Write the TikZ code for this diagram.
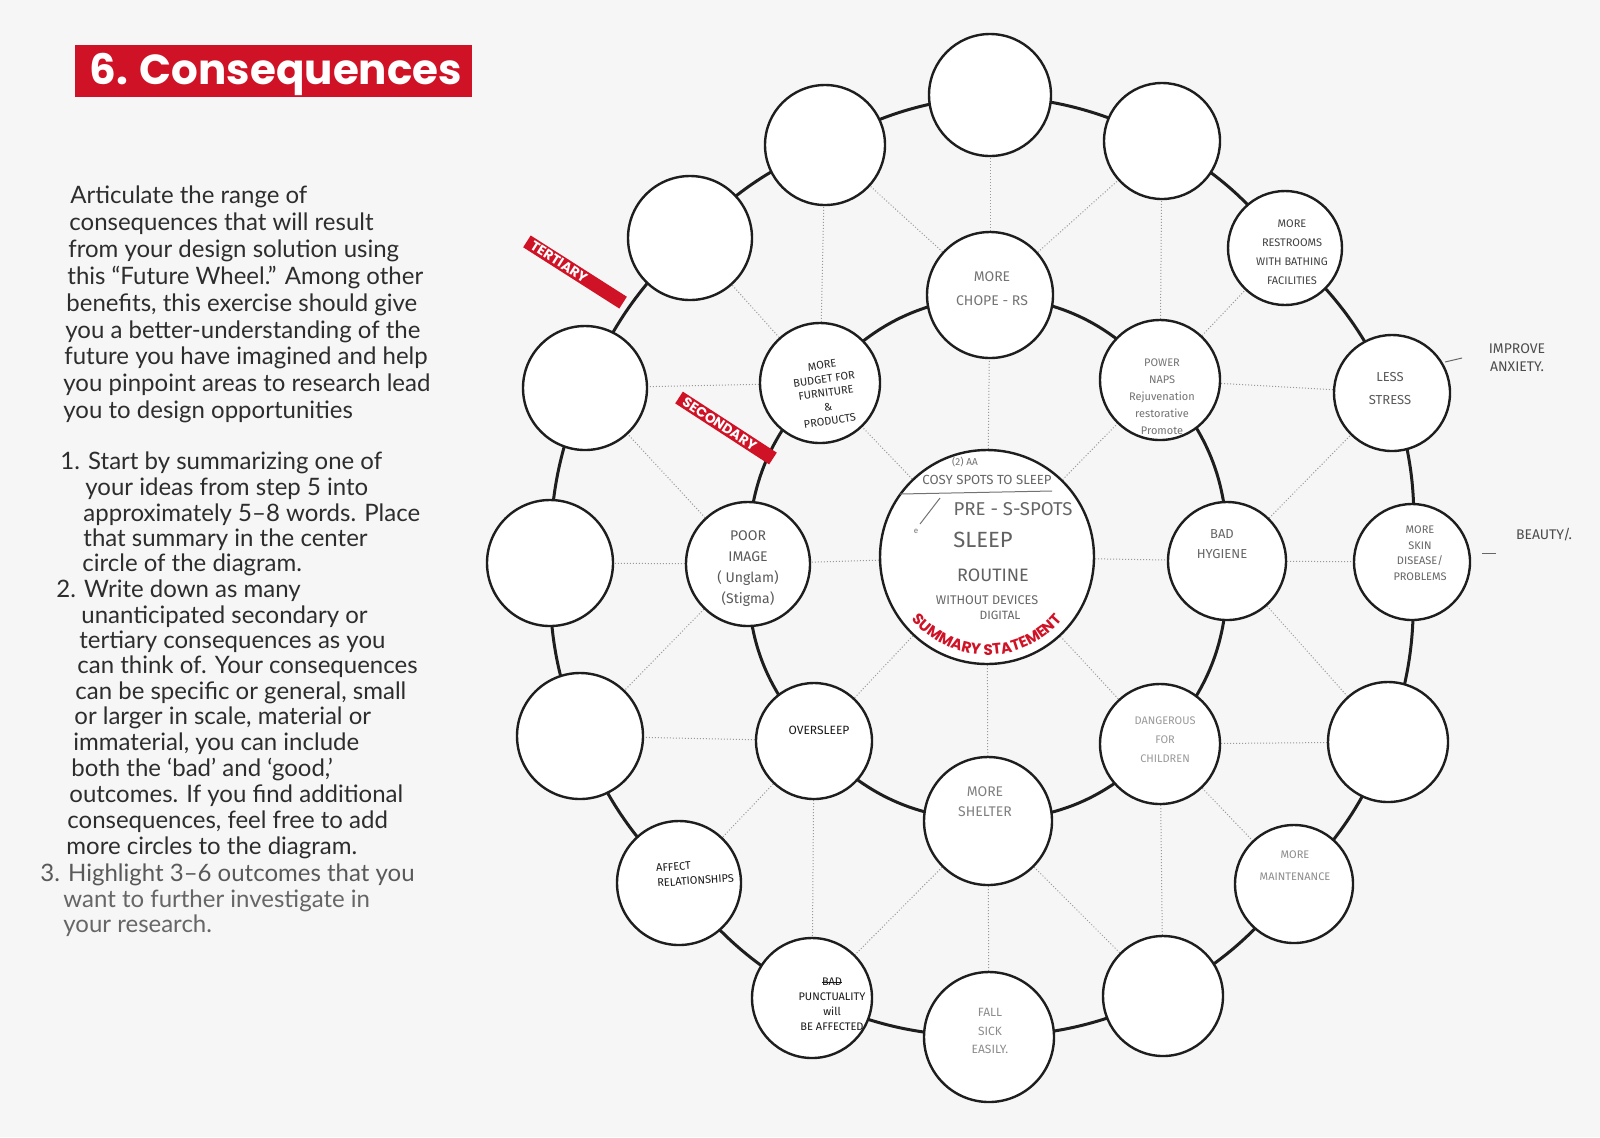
\documentclass[tikz,border=0pt]{standalone}
\usepackage{fontspec}
\setmainfont{Lato}
\newfontfamily\titlefont{Poppins}
\newfontfamily\hand{Fira Sans}
\usetikzlibrary{decorations.text}
\pgfdeclarelayer{back}
\pgfdeclarelayer{bg}
\pgfsetlayers{back,bg,main}
\definecolor{tred}{RGB}{208,18,38}
\definecolor{page}{RGB}{246,246,246}
\definecolor{ink}{RGB}{30,30,30}
\definecolor{txt}{RGB}{45,45,45}
\newcommand\strk[1]{{\setbox0\hbox{#1}\rlap{\rule[0.35ex]{\wd0}{0.4pt}}#1}}
\begin{document}
\begin{tikzpicture}[x=0.5pt,y=0.5pt,
  wc/.style={circle,draw=ink,line width=1.2pt,fill=white,minimum size=#1pt,inner sep=0pt},
  ring/.style={draw=ink,line width=1.5pt},
  dotl/.style={draw=black!40,line width=0.5pt,dash pattern=on 0.5pt off 1pt},
  body/.style={anchor=base west,inner sep=0pt,text=txt,font=\fontsize{12}{15}\selectfont},
  hw/.style={inner sep=0pt,align=center,text=black!60},
  tag/.style={fill=tred,text=white,inner xsep=3pt,inner ysep=0pt,minimum height=7pt,align=left,
     font=\titlefont\bfseries\fontsize{6.8}{7}\selectfont}]
\useasboundingbox (0,0) rectangle (1600,-1137);
\begin{pgfonlayer}{back}
\fill[page] (0,0) rectangle (1600,-1137);
\end{pgfonlayer}

% ---------- title ----------
\node[fill=tred,anchor=north west,minimum width=198.5pt,minimum height=26pt,inner sep=0pt] (titlebox) at (75,-45) {};
\node[anchor=base west,inner sep=0pt,text=white,font=\titlefont\bfseries\fontsize{21}{24}\selectfont] (title) at (89,-84) {6. Consequences};

% ---------- body text ----------
\node[body] (p1) at (70,-203) {Articulate the range of};
\node[body] (p2) at (69,-230) {consequences that will result};
\node[body] (p3) at (68,-257) {from your design solution using};
\node[body] (p4) at (67,-284) {this “Future Wheel.” Among other};
\node[body] (p5) at (66,-311) {benefits, this exercise should give};
\node[body] (p6) at (65,-338) {you a better-understanding of the};
\node[body] (p7) at (64,-364) {future you have imagined and help};
\node[body] (p8) at (63,-391) {you pinpoint areas to research lead};
\node[body] (p9) at (63,-418) {you to design opportunities};

\node[body] (l1) at (60,-469) {1. Start by summarizing one of};
\node[body] (l2) at (85,-495) {your ideas from step 5 into};
\node[body] (l3) at (83,-521) {approximately 5–8 words. Place};
\node[body] (l4) at (83,-546) {that summary in the center};
\node[body] (l5) at (82,-571) {circle of the diagram.};
\node[body] (l6) at (56,-597) {2. Write down as many};
\node[body] (l7) at (81,-623) {unanticipated secondary or};
\node[body] (l8) at (79,-648) {tertiary consequences as you};
\node[body] (l9) at (77,-673) {can think of. Your consequences};
\node[body] (l10) at (75,-699) {can be specific or general, small};
\node[body] (l11) at (74,-724) {or larger in scale, material or};
\node[body] (l12) at (73,-750) {immaterial, you can include};
\node[body] (l13) at (71,-776) {both the ‘bad’ and ‘good,’};
\node[body] (l14) at (69,-802) {outcomes. If you find additional};
\node[body] (l15) at (67,-828) {consequences, feel free to add};
\node[body] (l16) at (66,-854) {more circles to the diagram.};
\node[body,text=black!65] (l17) at (40,-881) {3. Highlight 3–6 outcomes that you};
\node[body,text=black!60] (l18) at (63,-907) {want to further investigate in};
\node[body,text=black!60] (l19) at (63,-932) {your research.};

% ---------- circles ----------
\node[wc=107] (c) at (987,-557) {};
\node[wc=63] (s1) at (990,-295) {};
\node[wc=60] (s2) at (1160,-380) {};
\node[wc=59] (s3) at (1227,-561) {};
\node[wc=60] (s4) at (1160,-744) {};
\node[wc=64] (s5) at (988,-821) {};
\node[wc=58] (s6) at (814,-741) {};
\node[wc=62] (s7) at (748,-564) {};
\node[wc=60] (s8) at (820,-383) {};

\node[wc=61] (t1) at (990,-95) {};
\node[wc=58] (t2) at (1162,-141) {};
\node[wc=57] (t3) at (1285,-248) {};
\node[wc=58] (t4) at (1392,-393) {};
\node[wc=58] (t5) at (1412,-562) {};
\node[wc=60] (t6) at (1388,-742) {};
\node[wc=59] (t7) at (1294,-884) {};
\node[wc=60] (t8) at (1163,-996) {};
\node[wc=65] (t9) at (989,-1037) {};
\node[wc=60] (t10) at (812,-998) {};
\node[wc=62] (t11) at (679,-883) {};
\node[wc=63] (t12) at (580,-736) {};
\node[wc=63] (t13) at (550,-563) {};
\node[wc=62] (t14) at (585,-388) {};
\node[wc=62] (t15) at (690,-238) {};
\node[wc=60] (t16) at (825,-145) {};

% ---------- rings and dotted links ----------
\begin{pgfonlayer}{bg}
\foreach \a/\b in {s1/s2,s2/s3,s3/s4,s4/s5,s5/s6,s6/s7,s7/s8,s8/s1}
  \draw[ring] (\a.center) to[bend left=22] (\b.center);
\foreach \a/\b in {t1/t2,t2/t3,t3/t4,t4/t5,t5/t6,t6/t7,t7/t8,t8/t9,t9/t10,t10/t11,t11/t12,t12/t13,t13/t14,t14/t15,t15/t16,t16/t1}
  \draw[ring] (\a.center) to[bend left=11] (\b.center);
\foreach \s in {s1,s2,s3,s4,s5,s6,s7,s8}
  \draw[dotl] (c) -- (\s);
\foreach \s/\x/\y/\z in {s1/t16/t1/t2,s2/t2/t3/t4,s3/t4/t5/t6,s4/t6/t7/t8,s5/t8/t9/t10,s6/t10/t11/t12,s7/t12/t13/t14,s8/t14/t15/t16}{
  \draw[dotl] (\s) -- (\x);
  \draw[dotl] (\s) -- (\y);
  \draw[dotl] (\s) -- (\z);
}
\end{pgfonlayer}

% ---------- tags ----------
\node[tag,rotate=-32.5,text width=51pt] (tert) at (575,-272) {TERTIARY};
\node[tag,rotate=-33,text width=50pt] (seco) at (726,-428) {SECONDARY};

% ---------- summary statement ----------
\path[decorate,decoration={text along path,text align=center,
  text={|\color{tred}\titlefont\bfseries\fontsize{7.6}{8}\selectfont|SUMMARY STATEMENT}}]
  (c.center) ++(200:98) arc[start angle=200,end angle=340,radius=98];

% ---------- handwriting in the centre ----------
\node[hw,text=black!55,font=\hand\fontsize{5}{6}\selectfont] (h0) at (965,-462) {(2) AA};
\node[hw,text=black!60,font=\hand\fontsize{6.6}{8}\selectfont] (h1) at (987,-480) {COSY SPOTS TO SLEEP};
\coordinate (u1) at (900,-494);
\coordinate (u2) at (1052,-491);
\draw[black!55,line width=0.5pt] (u1) -- (u2);
\coordinate (sl1) at (920,-524);
\coordinate (sl2) at (940,-498);
\draw[black!55,line width=0.5pt] (sl1) -- (sl2);
\node[hw,text=black!60,font=\hand\fontsize{9.3}{10}\selectfont] (h2) at (1013,-509) {PRE - S-SPOTS};
\node[hw,text=black!55,font=\hand\fontsize{4}{5}\selectfont] (h3) at (916,-531) {e};
\node[hw,text=black!62,font=\hand\fontsize{11}{12}\selectfont] (h4) at (983,-540) {SLEEP};
\node[hw,text=black!62,font=\hand\fontsize{9}{10}\selectfont] (h5) at (993,-575) {ROUTINE};
\node[hw,text=black!60,font=\hand\fontsize{6.3}{7}\selectfont] (h6) at (987,-600) {WITHOUT DEVICES};
\node[hw,text=black!60,font=\hand\fontsize{6}{7}\selectfont] (h7) at (1000,-615) {DIGITAL};

% ---------- handwriting in secondary circles ----------
\node[hw,text=black!55,font=\hand\fontsize{7}{12}\selectfont] (hs1) at (992,-289) {MORE\\CHOPE - RS};
\node[hw,text=black!55,font=\hand\fontsize{5.5}{8.5}\selectfont] (hs2) at (1162,-397) {POWER\\NAPS\\Rejuvenation\\restorative\\Promote};
\node[hw,text=black!85,rotate=8,font=\hand\fontsize{5.5}{7}\selectfont] (hs8) at (826,-393) {MORE\\BUDGET FOR\\FURNITURE\\\&\\PRODUCTS};
\node[hw,text=black!65,font=\hand\fontsize{7}{10.5}\selectfont] (hs7) at (748,-569) {POOR\\IMAGE\\( Unglam)\\(Stigma)};
\node[hw,text=black!60,font=\hand\fontsize{6.5}{10}\selectfont] (hs3) at (1222,-544) {BAD\\HYGIENE};
\node[hw,text=black!90,font=\hand\fontsize{6}{7}\selectfont] (hs6) at (819,-730) {OVERSLEEP};
\node[hw,text=black!50,font=\hand\fontsize{7}{10}\selectfont] (hs5) at (985,-802) {MORE\\SHELTER};
\node[hw,text=black!40,font=\hand\fontsize{5.5}{9.5}\selectfont] (hs4) at (1165,-740) {DANGEROUS\\FOR\\CHILDREN};

% ---------- handwriting in tertiary circles ----------
\node[hw,text=black!75,font=\hand\fontsize{5.5}{9.5}\selectfont] (ht3) at (1292,-252) {MORE\\RESTROOMS\\WITH BATHING\\FACILITIES};
\node[hw,text=black!65,font=\hand\fontsize{6.5}{11.5}\selectfont] (ht4) at (1390,-389) {LESS\\STRESS};
\node[hw,text=black!60,font=\hand\fontsize{5.5}{7.8}\selectfont] (ht5) at (1420,-553) {MORE\\SKIN\\DISEASE/\\PROBLEMS};
\node[hw,text=black!45,font=\hand\fontsize{5.5}{11}\selectfont] (ht7) at (1295,-866) {MORE\\MAINTENANCE};
\node[hw,text=black!45,font=\hand\fontsize{6}{9.3}\selectfont] (ht9) at (990,-1031) {FALL\\SICK\\EASILY.};
\node[hw,text=black!90,font=\hand\fontsize{5.5}{7.5}\selectfont] (ht10) at (832,-1004) {\strk{BAD}\\PUNCTUALITY\\will\\BE AFFECTED};
\node[hw,text=black!90,align=left,rotate=4,font=\hand\fontsize{5.5}{7.5}\selectfont] (ht11) at (695,-873) {AFFECT\\RELATIONSHIPS};

% ---------- side notes ----------
\coordinate (d1a) at (1445,-362);
\coordinate (d1b) at (1462,-358);
\draw[black!60,line width=0.5pt] (d1a) -- (d1b);
\node[hw,text=black!70,font=\hand\fontsize{7}{9}\selectfont] (n1) at (1517,-358) {IMPROVE\\ANXIETY.};
\coordinate (d2a) at (1482,-553);
\coordinate (d2b) at (1496,-553);
\draw[black!60,line width=0.5pt] (d2a) -- (d2b);
\node[hw,text=black!70,font=\hand\fontsize{7}{8}\selectfont] (n2) at (1544,-535) {BEAUTY/.};
\end{tikzpicture}
\end{document}
